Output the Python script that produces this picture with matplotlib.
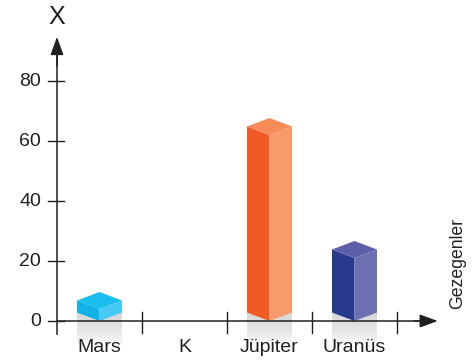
import numpy as np
import matplotlib
matplotlib.use("Agg")
import matplotlib.pyplot as plt
from matplotlib.patches import Polygon

plt.rcParams['font.family'] = ['Liberation Sans', 'DejaVu Sans']

# gezegenler ve X değerleri
gezegenler = ['Mars', 'K', 'Jüpiter', 'Uranüs']
degerler = [4, 0, 62, 21]
yticks = [0, 20, 40, 60, 80]

# her çubuk için (sol yüz, sağ yüz, üst yüz) renkleri
renkler = [
    ('#10b2e9', '#46c9f4', '#1cbdef'),
    None,
    ('#f15a22', '#f79b6c', '#f78a57'),
    ('#283a8b', '#6e71b1', '#5c5fa7'),
]

W, H = 475, 363
fig = plt.figure(figsize=(W / 100, H / 100), dpi=100)
ax = fig.add_axes([0, 0, 1, 1])
ax.set_xlim(-99.5 / 85, 375.5 / 85)
ax.set_ylim(-14, 107)
ax.axis('off')

px_x = 1 / 85   # 1 piksel, kategori biriminde
px_y = 1 / 3    # 1 piksel, değer biriminde
hw = 22.5 * px_x   # yarım çubuk genişliği
dd = 8.5 * px_y    # izometrik kaydırma

koyu = '#231f20'

# çubuklar
for i, (v, c) in enumerate(zip(degerler, renkler)):
    if c is None:
        continue
    sol, sag, ust = c
    # altındaki gri gölge
    grad = np.linspace(0, 1, 100).reshape(-1, 1)
    ax.imshow(grad, cmap=matplotlib.colors.LinearSegmentedColormap.from_list(
        'g', ['#d6d6d8', '#e6e6e8', '#ffffff']),
        extent=(i - hw, i + hw, -9.5, dd), aspect='auto', zorder=1,
        interpolation='bilinear')
    ax.add_patch(Polygon([(i, 0), (i, v), (i - hw, v + dd), (i - hw, dd)],
                         closed=True, facecolor=sol, edgecolor='none', zorder=3))
    ax.add_patch(Polygon([(i, 0), (i, v), (i + hw, v + dd), (i + hw, dd)],
                         closed=True, facecolor=sag, edgecolor='none', zorder=3))
    ax.add_patch(Polygon([(i, v), (i - hw, v + dd), (i, v + 2 * dd), (i + hw, v + dd)],
                         closed=True, facecolor=ust, edgecolor='none', zorder=3))

# eksenler (oklu)
x0 = -0.5
ax.plot([x0, x0], [-4.3, 90], color=koyu, lw=1.1, zorder=4)
ax.annotate('', xy=(x0, 94.7), xytext=(x0, 85),
            arrowprops=dict(arrowstyle='-|>,head_length=1.1,head_width=0.4',
                            mutation_scale=10, color=koyu, lw=1.1,
                            shrinkA=0, shrinkB=0), zorder=5)
ax.plot([x0, 3.8], [0, 0], color=koyu, lw=1.1, zorder=4)
ax.annotate('', xy=(3.98, 0), xytext=(3.7, 0),
            arrowprops=dict(arrowstyle='-|>,head_length=1.1,head_width=0.4',
                            mutation_scale=10, color=koyu, lw=1.1,
                            shrinkA=0, shrinkB=0), zorder=5)

# y eksen çentikleri ve etiketleri
for t in yticks:
    ax.plot([x0 - 9 * px_x, x0 + 7 * px_x], [t, t], color=koyu, lw=1.0, zorder=4)
    ax.text(x0 - 16 * px_x, t, str(t), ha='right', va='center',
            fontsize=14, color=koyu)

# x eksen çentikleri ve etiketleri
for k in range(len(gezegenler)):
    ax.plot([k + 0.5, k + 0.5], [3, -4], color=koyu, lw=1.0, zorder=4)
for k, ad in enumerate(gezegenler):
    ax.text(k, -9, ad, ha='center', va='center', fontsize=14, color=koyu, zorder=6)

ax.text(x0, 101.3, 'X', ha='center', va='center', fontsize=18, color=koyu)
ax.text(4.217, 19.3, 'Gezegenler', ha='center', va='center', rotation=90,
        fontsize=12.7, color=koyu)

fig.savefig('out.png', dpi=100)
